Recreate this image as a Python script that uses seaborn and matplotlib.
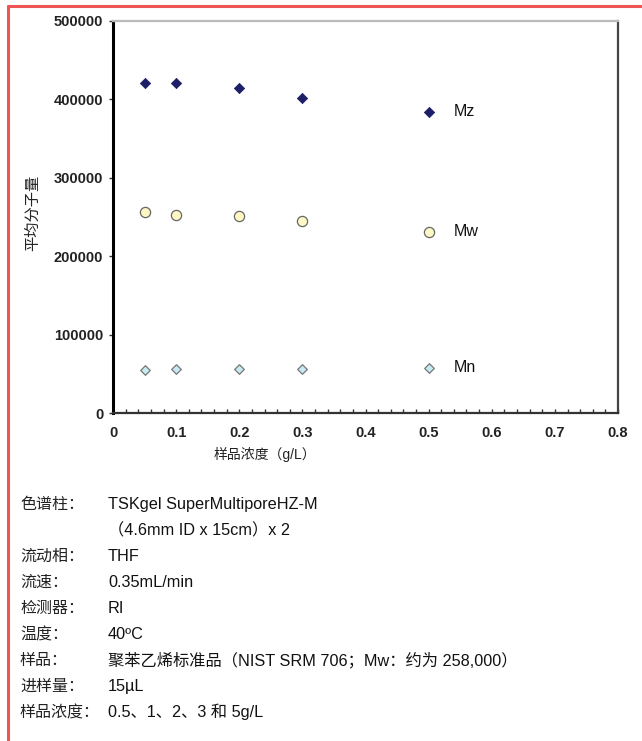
import matplotlib
matplotlib.use("Agg")
import matplotlib.pyplot as plt
from matplotlib.ticker import MultipleLocator
import numpy as np
import pandas as pd
import seaborn as sns

# Sample concentration (g/L) and average molecular weights
concentration = [0.05, 0.1, 0.2, 0.3, 0.5]
mz = [421300, 420500, 414500, 401400, 384300]
mw = [256400, 252600, 251700, 244500, 231300]
mn = [54800, 56100, 56100, 56100, 57800]
series_names = ["Mz", "Mw", "Mn"]

x_ticks = [0, 0.1, 0.2, 0.3, 0.4, 0.5, 0.6, 0.7, 0.8]
y_ticks = [0, 100000, 200000, 300000, 400000, 500000]

conditions = [
    ("色谱柱：", "TSKgel SuperMultiporeHZ-M"),
    ("", "（4.6mm ID x 15cm）x 2"),
    ("流动相：", "THF"),
    ("流速：", "0.35mL/min"),
    ("检测器：", "RI"),
    ("温度：", "40ºC"),
    ("样品：", "聚苯乙烯标准品（NIST SRM 706；Mw：约为 258,000）"),
    ("进样量：", "15µL"),
    ("样品浓度：", "0.5、1、2、3 和 5g/L"),
]

sns.set_theme(style="white")
plt.rcParams["font.family"] = ["Liberation Sans", "Noto Sans CJK SC", "DejaVu Sans"]

df = pd.DataFrame({
    "conc": concentration * 3,
    "mol": mz + mw + mn,
    "series": np.repeat(series_names, len(concentration)),
})

W, H = 642, 741
fig = plt.figure(figsize=(W / 100, H / 100), dpi=100)
ax = fig.add_axes([113 / W, 1 - 413 / H, (618 - 113) / W, (413 - 21) / H])

styles = {
    "Mz": dict(marker="D", s=27, color="#1c1f66", edgecolor="#1c1f66", linewidth=0.6),
    "Mw": dict(marker="o", s=54, color="#fdf8c4", edgecolor="#666666", linewidth=0.9),
    "Mn": dict(marker="D", s=24, color="#c6eaf2", edgecolor="#777777", linewidth=0.9),
}
for name in series_names:
    sub = df[df["series"] == name]
    sns.scatterplot(data=sub, x="conc", y="mol", ax=ax, legend=False, zorder=3, **styles[name])
    ax.text(0.54, sub["mol"].iloc[-1], name, fontsize=11.5, va="center", ha="left",
            color="#111111")

ax.set_xlim(0, 0.8)
ax.set_ylim(0, 500000)
ax.set_xticks(x_ticks)
ax.set_xticklabels(["0" if t == 0 else f"{t:g}" for t in x_ticks])
ax.set_yticks(y_ticks)
ax.set_yticklabels([str(t) for t in y_ticks])
ax.xaxis.set_minor_locator(MultipleLocator(0.02))

for lab in ax.get_xticklabels() + ax.get_yticklabels():
    lab.set_fontweight("bold")
    lab.set_fontsize(10.5)
    lab.set_color("#222222")

ax.tick_params(axis="x", which="both", direction="in", length=3, width=1, color="#333333",
               pad=9, bottom=True)
ax.tick_params(axis="y", which="major", direction="out", length=3, width=1, color="#333333",
               pad=4, left=True)

ax.spines["left"].set_color("black")
ax.spines["left"].set_linewidth(2.2)
ax.spines["bottom"].set_color("#333333")
ax.spines["bottom"].set_linewidth(1.6)
ax.spines["top"].set_color("#bbbbbb")
ax.spines["top"].set_linewidth(1.6)
ax.spines["right"].set_color("#444444")
ax.spines["right"].set_linewidth(1.6)

ax.set_xlabel("")
ax.set_ylabel("")
fig.text(265 / W, 1 - 454 / H, "样品浓度（g/L）", fontsize=10, ha="center", va="center",
         color="#222222")
fig.text(33 / W, 1 - 213 / H, "平均分子量", fontsize=11, rotation=90, ha="center",
         va="center", color="#222222")

# Chromatography conditions block
y0, dy = 509, 26.0
for i, (label, value) in enumerate(conditions):
    y = 1 - (y0 + i * dy) / H
    if label:
        fig.text(20 / W, y, label, fontsize=11.5, ha="left", va="baseline", color="#222222")
    fig.text(108 / W, y, value, fontsize=11.7, ha="left", va="baseline", color="#111111")

# Page frame
fig.add_artist(plt.Line2D([8 / W, 8 / W], [0, 1 - 6 / H], transform=fig.transFigure,
                          color="#f05555", linewidth=2.2))
fig.add_artist(plt.Line2D([8 / W, 1], [1 - 6 / H, 1 - 6 / H], transform=fig.transFigure,
                          color="#f05555", linewidth=2.2))

fig.savefig("out.png", dpi=100, facecolor="white")
